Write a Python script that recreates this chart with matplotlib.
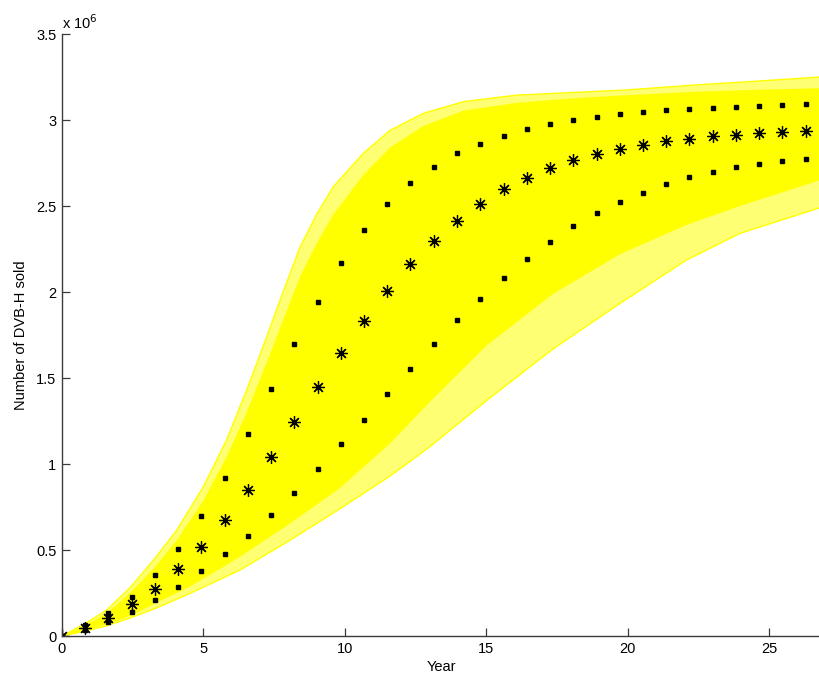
import matplotlib
matplotlib.use("Agg")
import matplotlib.pyplot as plt

# ---- data (values in millions) ----
YEARS = [0, 0.82, 1.64, 2.46, 3.29, 4.11, 4.93, 5.75, 6.57, 7.39, 8.22, 9.04,
         9.86, 10.68, 11.50, 12.32, 13.15, 13.97, 14.79, 15.61, 16.43, 17.25,
         18.08, 18.90, 19.72, 20.54, 21.36, 22.18, 23.00, 23.83, 24.65, 25.47, 26.29]
MEAN = [0, 0.048, 0.103, 0.184, 0.275, 0.388, 0.519, 0.674, 0.849, 1.043, 1.242,
        1.446, 1.643, 1.831, 2.006, 2.163, 2.298, 2.414, 2.514, 2.599, 2.665,
        2.721, 2.767, 2.802, 2.832, 2.857, 2.878, 2.891, 2.905, 2.915, 2.923,
        2.930, 2.936]
UPPER = [0, 0.062, 0.132, 0.229, 0.353, 0.508, 0.700, 0.920, 1.173, 1.436, 1.698,
         1.944, 2.167, 2.359, 2.512, 2.636, 2.729, 2.806, 2.862, 2.909, 2.946,
         2.977, 3.000, 3.019, 3.035, 3.048, 3.056, 3.064, 3.072, 3.077, 3.083,
         3.087, 3.093]
LOWER = [0, 0.036, 0.080, 0.140, 0.207, 0.283, 0.376, 0.475, 0.581, 0.703, 0.830,
         0.971, 1.114, 1.256, 1.405, 1.552, 1.696, 1.839, 1.959, 2.081, 2.192,
         2.289, 2.384, 2.457, 2.525, 2.577, 2.626, 2.667, 2.700, 2.727, 2.746,
         2.762, 2.772]

# envelope of the simulated curves (upper side)
UP_YEARS = [0, 0.8, 1.58, 2.4, 3.24, 4.06, 5.0, 5.82, 6.53, 7.24, 7.71, 8.42,
            9.0, 9.59, 10.65, 11.6, 12.78, 14.2, 16.1, 17.97, 20, 22.5, 24.5, 26.8]
OUTER_UP = [0, 0.07, 0.151, 0.28, 0.442, 0.616, 0.868, 1.14, 1.43, 1.74, 1.953,
            2.263, 2.45, 2.612, 2.806, 2.94, 3.039, 3.107, 3.145, 3.159, 3.175,
            3.205, 3.225, 3.25]
INNER_UP = [0, 0.06, 0.131, 0.25, 0.392, 0.556, 0.788, 1.04, 1.30, 1.59, 1.79,
            2.09, 2.28, 2.45, 2.68, 2.84, 2.965, 3.055, 3.10, 3.125, 3.145,
            3.165, 3.175, 3.185]
# envelope of the simulated curves (lower side)
LO_YEARS = [0, 0.82, 1.64, 2.46, 3.3, 4.53, 6.3, 8.07, 9.83, 11.6, 13.0, 15.02,
            17.37, 19.73, 22.08, 23.97, 26.8]
OUTER_LO = [0, 0.028, 0.062, 0.108, 0.16, 0.248, 0.384, 0.558, 0.74, 0.93, 1.10,
            1.37, 1.67, 1.934, 2.186, 2.341, 2.49]
INNER_LO = [0, 0.032, 0.07, 0.12, 0.19, 0.287, 0.461, 0.655, 0.86, 1.12, 1.36,
            1.69, 1.99, 2.22, 2.39, 2.50, 2.65]

SCALE = 1e6
XTICKS = [0, 5, 10, 15, 20, 25]
YTICKS = [0, 0.5, 1, 1.5, 2, 2.5, 3, 3.5]
YTICKLABELS = ['0', '0.5', '1', '1.5', '2', '2.5', '3', '3.5']

plt.rcParams['font.family'] = ['Liberation Sans', 'DejaVu Sans']

fig = plt.figure(figsize=(8.2, 6.82), dpi=100)
ax = fig.add_axes([62 / 820, 46 / 682, 1 - 62 / 820, 602 / 682])


def sc(v):
    return [x * SCALE for x in v]


ax.fill(UP_YEARS + LO_YEARS[::-1], sc(OUTER_UP + OUTER_LO[::-1]),
        color=(1, 1, 0.45), lw=0, zorder=1)
ax.fill(UP_YEARS + LO_YEARS[::-1], sc(INNER_UP + INNER_LO[::-1]),
        color=(1, 1, 0), lw=0, zorder=2)
ax.plot(UP_YEARS, sc(OUTER_UP), color=(1, 1, 0), lw=1.0, zorder=2)
ax.plot(LO_YEARS, sc(OUTER_LO), color=(1, 1, 0), lw=1.0, zorder=2)

ax.plot(YEARS, sc(UPPER), ls='none', marker='s', ms=2.6, color='black', zorder=5)
ax.plot(YEARS, sc(LOWER), ls='none', marker='s', ms=2.6, color='black', zorder=5)
ax.plot(YEARS, sc(MEAN), ls='none', marker=(8, 2, 0), ms=9, mew=0.9,
        color='black', zorder=6)
ax.plot(YEARS, sc(MEAN), ls='none', marker='o', ms=2.2, color='black', zorder=6)

ax.set_xlim(0, 26.8)
ax.set_ylim(0, 3.5 * SCALE)
ax.set_xticks(XTICKS)
ax.set_xticklabels([str(t) for t in XTICKS])
ax.set_yticks([t * SCALE for t in YTICKS])
ax.set_yticklabels(YTICKLABELS)

for s in ['top', 'right']:
    ax.spines[s].set_visible(False)
for s in ['left', 'bottom']:
    ax.spines[s].set_color('#3c3c3c')
    ax.spines[s].set_linewidth(1.0)
    ax.spines[s].set_zorder(7)
ax.tick_params(direction='in', length=6, width=0.9, color='#3c3c3c',
               labelsize=10.5, pad=4)

ax.set_xlabel('Year', fontsize=10.5, labelpad=3)
ax.set_ylabel('Number of DVB-H sold', fontsize=10.5, labelpad=6)
ax.text(0.0, 1.004, r'x 10$^{6}$', transform=ax.transAxes, ha='left',
        va='bottom', fontsize=10.5)

fig.savefig('out.png', dpi=100)
